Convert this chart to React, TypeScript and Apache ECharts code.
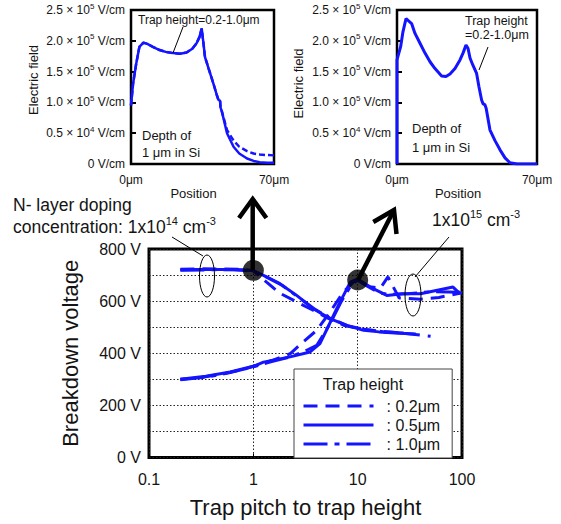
import React, { useEffect, useRef } from "react";
import * as echarts from "echarts";

const FONT = "'Liberation Sans', Arial, Helvetica, sans-serif";
const BLUE = "#1414ff";
const INK = "#141414";

// ---------- Main chart: breakdown voltage vs trap pitch / trap height ----------
const pitchTickLabels = ["0.1", "1", "10", "100"];
const legendNames = [": 0.2μm", ": 0.5μm", ": 1.0μm"];

// N- layer doping 1x10^14 cm^-3
const low02X = [0.2, 0.3, 0.5, 0.8, 1.0, 1.34, 1.8, 2.6, 3.7, 5.3, 7.5, 10.5, 15, 22, 32, 50];
const low02V = [722, 724, 723, 722, 716, 673, 630, 597, 566, 533, 506, 494, 486, 481, 474, 465];
const low05X = [0.2, 0.3, 0.5, 0.8, 1.0, 1.25, 1.8, 2.6, 3.76, 5.43, 7.85, 11.4, 16, 25, 36];
const low05V = [720, 721, 721, 720, 717, 699, 667, 622, 571, 533, 507, 488, 482, 477, 474];
const low10X = [0.2, 0.35, 0.6, 1.0, 1.3, 1.9, 2.7, 3.8, 5.4, 8, 12, 18, 28];
const low10V = [718, 720, 721, 715, 695, 660, 615, 572, 535, 506, 490, 482, 478];

// N- layer doping 1x10^15 cm^-3
const high02X = [0.2, 0.3, 0.5, 0.8, 1.0, 1.5, 2.25, 3.0, 4.05, 5.43, 7.3, 9.1, 10, 13, 16.5, 19.5, 25, 40, 60, 100];
const high02V = [300, 306, 320, 338, 350, 372, 398, 443, 488, 558, 635, 673, 682, 655, 650, 693, 612, 607, 614, 632];
const high05X = [0.2, 0.35, 0.6, 1.0, 1.25, 2.25, 3.5, 4.35, 5.1, 6.3, 8.5, 10, 13.2, 19, 27, 40, 82, 96];
const high05V = [300, 312, 328, 350, 366, 386, 405, 437, 494, 571, 673, 685, 654, 622, 628, 628, 654, 628];
const high10X = [0.2, 0.35, 0.6, 1.0, 1.5, 2.2, 3.0, 4.05, 5.43, 7, 8.8, 10, 12, 16, 20, 30, 50, 100];
const high10V = [298, 308, 326, 348, 368, 385, 405, 430, 513, 600, 665, 680, 660, 632, 626, 628, 636, 634];

// highlighted operating points (black dots)
const markerX = [1, 10];
const markerV = [718, 681];

// ---------- Insets: electric field vs position (units of 1e5 V/cm) ----------
const fieldTickLabels = [
  "0 V/cm",
  "0.5 × 10{s|4} V/cm",
  "1.0 × 10{s|5} V/cm",
  "1.5 × 10{s|5} V/cm",
  "2.0 × 10{s|5} V/cm",
  "2.5 × 10{s|5} V/cm",
];

// left inset: 1x10^14, pitch ratio 1
const leftPos = [0, 1, 2.5, 4.1, 6.1, 8, 10.7, 14, 17, 20.6, 24, 27.2, 30, 32.1, 33.5, 34.6, 35.5, 36.2, 38, 40.3, 42, 42.8, 43.6, 43.8, 44.5, 47, 50.2, 53, 56.8, 60, 63, 66.7, 70];
const leftSolid = [0.95, 1.3, 1.62, 1.9, 1.97, 1.95, 1.9, 1.85, 1.82, 1.8, 1.79, 1.81, 1.87, 1.96, 2.06, 2.2, 1.95, 1.74, 1.55, 1.31, 1.12, 1.04, 1.03, 0.92, 0.85, 0.5, 0.28, 0.17, 0.09, 0.05, 0.03, 0.02, 0.02];
const leftDashed = [0.95, 1.3, 1.62, 1.9, 1.97, 1.95, 1.9, 1.85, 1.82, 1.8, 1.79, 1.81, 1.87, 1.96, 2.06, 2.2, 1.95, 1.74, 1.55, 1.31, 1.12, 1.04, 1.03, 0.92, 0.85, 0.55, 0.38, 0.28, 0.21, 0.17, 0.155, 0.145, 0.14];

// right inset: 1x10^15, pitch ratio 10
const rightPos = [0, 0, 0.5, 1.8, 3, 4.5, 5.5, 7.3, 9, 11.5, 14, 16.5, 19, 22.3, 24.5, 26.5, 29, 31.5, 33, 34.5, 35.5, 36.5, 38, 39.8, 41, 42.3, 43, 44, 44.6, 46.5, 49, 51.5, 54, 56.5, 60, 70];
const rightField = [0, 1.69, 1.75, 1.9, 2.15, 2.36, 2.33, 2.28, 2.12, 1.96, 1.8, 1.66, 1.55, 1.43, 1.42, 1.46, 1.55, 1.69, 1.8, 1.93, 1.88, 1.72, 1.6, 1.47, 1.25, 1.04, 0.98, 0.96, 0.9, 0.55, 0.38, 0.23, 0.1, 0.02, 0, 0];

const zip = (xs: number[], ys: number[]) => xs.map((x, i) => [x, ys[i]]);

const DASH: Record<string, any> = {
  [legendNames[0]]: [14, 8],
  [legendNames[1]]: "solid",
  [legendNames[2]]: [24, 7, 5, 7],
};

function insetXAxis(gridIndex: number, nameGap: number) {
  return {
    gridIndex,
    type: "value",
    min: 0,
    max: 70,
    interval: 70,
    axisLine: { show: false },
    axisTick: { show: false },
    splitLine: { show: false },
    axisLabel: { formatter: (v: number) => `${v}μm`, fontSize: 12, color: INK, margin: 10, fontFamily: FONT },
    name: "Position",
    nameLocation: "middle",
    nameGap,
    nameTextStyle: { fontSize: 13, color: INK, fontFamily: FONT, padding: [0, 18, 0, 0] },
  };
}

function insetYAxis(gridIndex: number, nameGap: number, shift: number) {
  return {
    gridIndex,
    type: "value",
    min: 0,
    max: 2.5,
    interval: 0.5,
    axisLine: { show: false },
    axisTick: { show: true, inside: true, length: 5, lineStyle: { color: "#000", width: 2 } },
    splitLine: { show: false },
    axisLabel: {
      formatter: (v: number) => fieldTickLabels[Math.round(v / 0.5)] ?? "",
      fontSize: 12,
      color: INK,
      margin: 6,
      fontFamily: FONT,
      rich: { s: { fontSize: 8, padding: [0, 0, 8, 0], fontFamily: FONT, color: INK } },
    },
    name: "Electric field",
    nameLocation: "middle",
    nameGap,
    nameTextStyle: { fontSize: 13, color: INK, fontFamily: FONT, padding: [0, 0, 0, shift] },
  };
}

function buildOption(): any {
  const mainDefs = [
    { name: legendNames[0], x: low02X, v: low02V },
    { name: legendNames[1], x: low05X, v: low05V },
    { name: legendNames[2], x: low10X, v: low10V },
    { name: legendNames[0], x: high02X, v: high02V },
    { name: legendNames[1], x: high05X, v: high05V },
    { name: legendNames[2], x: high10X, v: high10V },
  ];
  const mainSeries = mainDefs.map((d) => ({
    type: "line",
    name: d.name,
    xAxisIndex: 2,
    yAxisIndex: 2,
    data: zip(d.x, d.v),
    symbol: "none",
    showSymbol: false,
    lineStyle: { color: BLUE, width: 3, type: DASH[d.name] },
    itemStyle: { color: BLUE },
    z: 3,
  }));

  const insetLine = (name: string, xi: number, data: number[][], type: any, width: number) => ({
    type: "line",
    name,
    xAxisIndex: xi,
    yAxisIndex: xi,
    data,
    symbol: "none",
    showSymbol: false,
    lineStyle: { color: BLUE, width, type },
    itemStyle: { color: BLUE },
    z: 3,
  });

  const sup = { fontSize: 11, padding: [0, 0, 12, 0], fontFamily: FONT, fill: INK, color: INK };
  const txt = (x: number, y: number, text: string, fontSize: number, extra: any = {}) => ({
    type: "text",
    x,
    y,
    z: 100,
    style: { text, fontSize, fontFamily: FONT, fill: INK, align: "left", verticalAlign: "middle", ...extra },
  });
  const seg = (x1: number, y1: number, x2: number, y2: number, w: number) => ({
    type: "line",
    z: 100,
    shape: { x1, y1, x2, y2 },
    style: { stroke: "#000", lineWidth: w },
  });
  const chevron = (pts: number[][]) => ({
    type: "polyline",
    z: 100,
    shape: { points: pts },
    style: { stroke: "#000", lineWidth: 4.5, fill: "none", lineJoin: "miter" },
  });

  return {
    animation: false,
    backgroundColor: "#fff",
    textStyle: { fontFamily: FONT },
    grid: [
      { left: 131, top: 10, width: 143, height: 154, show: true, borderColor: "#000", borderWidth: 2.5, backgroundColor: "transparent", outerBoundsMode: "none" },
      { left: 397, top: 10, width: 140, height: 154, show: true, borderColor: "#000", borderWidth: 2.5, backgroundColor: "transparent", outerBoundsMode: "none" },
      { left: 149, top: 249, width: 313, height: 208.5, show: true, borderColor: "#000", borderWidth: 3, backgroundColor: "transparent", outerBoundsMode: "none" },
    ],
    xAxis: [
      insetXAxis(0, 15),
      insetXAxis(1, 20),
      {
        gridIndex: 2,
        type: "log",
        logBase: 10,
        min: 0.1,
        max: 100,
        axisLine: { show: false },
        axisTick: { show: true, inside: true, length: 4, lineStyle: { color: "#000" } },
        splitLine: { show: true, lineStyle: { color: "#222", width: 1, type: [1.5, 2] } },
        axisLabel: {
          fontSize: 16,
          color: INK,
          margin: 14,
          fontFamily: FONT,
          formatter: (v: number) => pitchTickLabels[Math.round(Math.log10(v)) + 1] ?? "",
        },
        name: "Trap pitch to trap height",
        nameLocation: "middle",
        nameGap: 39,
        nameTextStyle: { fontSize: 22, color: INK, fontFamily: FONT },
      },
    ],
    yAxis: [
      insetYAxis(0, 91, 14),
      insetYAxis(1, 92, 7),
      {
        gridIndex: 2,
        type: "value",
        min: 0,
        max: 800,
        interval: 100,
        axisLine: { show: false },
        axisTick: { show: false },
        splitLine: { show: true, lineStyle: { color: "#222", width: 1, type: [1.5, 2] } },
        axisLabel: {
          fontSize: 16,
          color: INK,
          margin: 8,
          fontFamily: FONT,
          padding: [7, 0, 0, 0],
          formatter: (v: number) => (v % 200 === 0 ? `${v} V` : ""),
        },
        name: "Breakdown voltage",
        nameLocation: "middle",
        nameGap: 68,
        nameTextStyle: { fontSize: 22, color: INK, fontFamily: FONT },
      },
    ],
    legend: {
      data: legendNames,
      left: 294,
      top: 369,
      orient: "vertical",
      itemWidth: 70,
      itemHeight: 14,
      itemGap: 3,
      padding: [29, 12, 6, 8],
      borderColor: "#444",
      borderWidth: 1,
      backgroundColor: "#fff",
      selectedMode: false,
      itemStyle: { color: "transparent", borderColor: "transparent", borderWidth: 0, opacity: 0 },
      lineStyle: { color: BLUE, width: 3, opacity: 1 },
      textStyle: { fontSize: 16, color: INK, fontFamily: FONT, padding: [0, 0, 0, 8] },
    },
    series: [
      ...mainSeries,
      {
        type: "scatter",
        name: "operating points",
        xAxisIndex: 2,
        yAxisIndex: 2,
        data: zip(markerX, markerV),
        symbolSize: 21,
        itemStyle: { color: "#000" },
        z: 10,
      },
      insetLine("left-dashed", 0, zip(leftPos, leftDashed), [6, 3], 2.5),
      insetLine("left-solid", 0, zip(leftPos, leftSolid), "solid", 2.5),
      insetLine("right-solid", 1, zip(rightPos, rightField), "solid", 3),
    ],
    graphic: [
      txt(363, 384, "Trap height", 16, { align: "center" }),
      // inset annotations
      txt(138, 20, "Trap height=0.2-1.0μm", 12),
      seg(183, 27, 173, 53, 1),
      txt(142, 135, "Depth of", 13),
      txt(142, 152, "1 μm in Si", 13),
      txt(465, 21, "Trap height", 12.5),
      txt(465, 35, "=0.2-1.0μm", 12.5),
      seg(488, 47, 479, 70, 1),
      txt(412, 128, "Depth of", 13),
      txt(412, 147, "1 μm in Si", 13),
      // doping annotations
      txt(13, 205, "N- layer doping", 17.5),
      txt(13, 227, "concentration: 1x10{s|14} cm{s|-3}", 17.5, { rich: { s: sup } }),
      txt(432, 220, "1x10{s|15} cm{s|-3}", 17.5, { rich: { s: sup } }),
      { type: "ellipse", z: 100, shape: { cx: 207, cy: 276, rx: 7.5, ry: 21 }, style: { fill: "none", stroke: "#000", lineWidth: 1 } },
      { type: "ellipse", z: 100, shape: { cx: 413, cy: 295, rx: 8, ry: 21 }, style: { fill: "none", stroke: "#000", lineWidth: 1 } },
      seg(172, 237, 203, 256, 1),
      seg(449, 237, 415, 277, 1),
      // arrows from the operating points to the insets
      seg(252.7, 270, 252.7, 201, 4.5),
      chevron([[239, 218], [252.7, 199], [266.4, 218]]),
      seg(358, 280, 393, 212, 4.5),
      chevron([[373.3, 222], [394, 210], [396.5, 234]]),
    ],
  };
}

export default function App() {
  const ref = useRef<HTMLDivElement>(null);
  useEffect(() => {
    if (!ref.current) return;
    const chart = echarts.init(ref.current, null, { renderer: "svg" });
    chart.setOption(buildOption());
    return () => chart.dispose();
  }, []);
  return (
    <div
      ref={ref}
      style={{ position: "fixed", left: 0, top: 0, width: 561, height: 524, background: "#fff" }}
    />
  );
}
